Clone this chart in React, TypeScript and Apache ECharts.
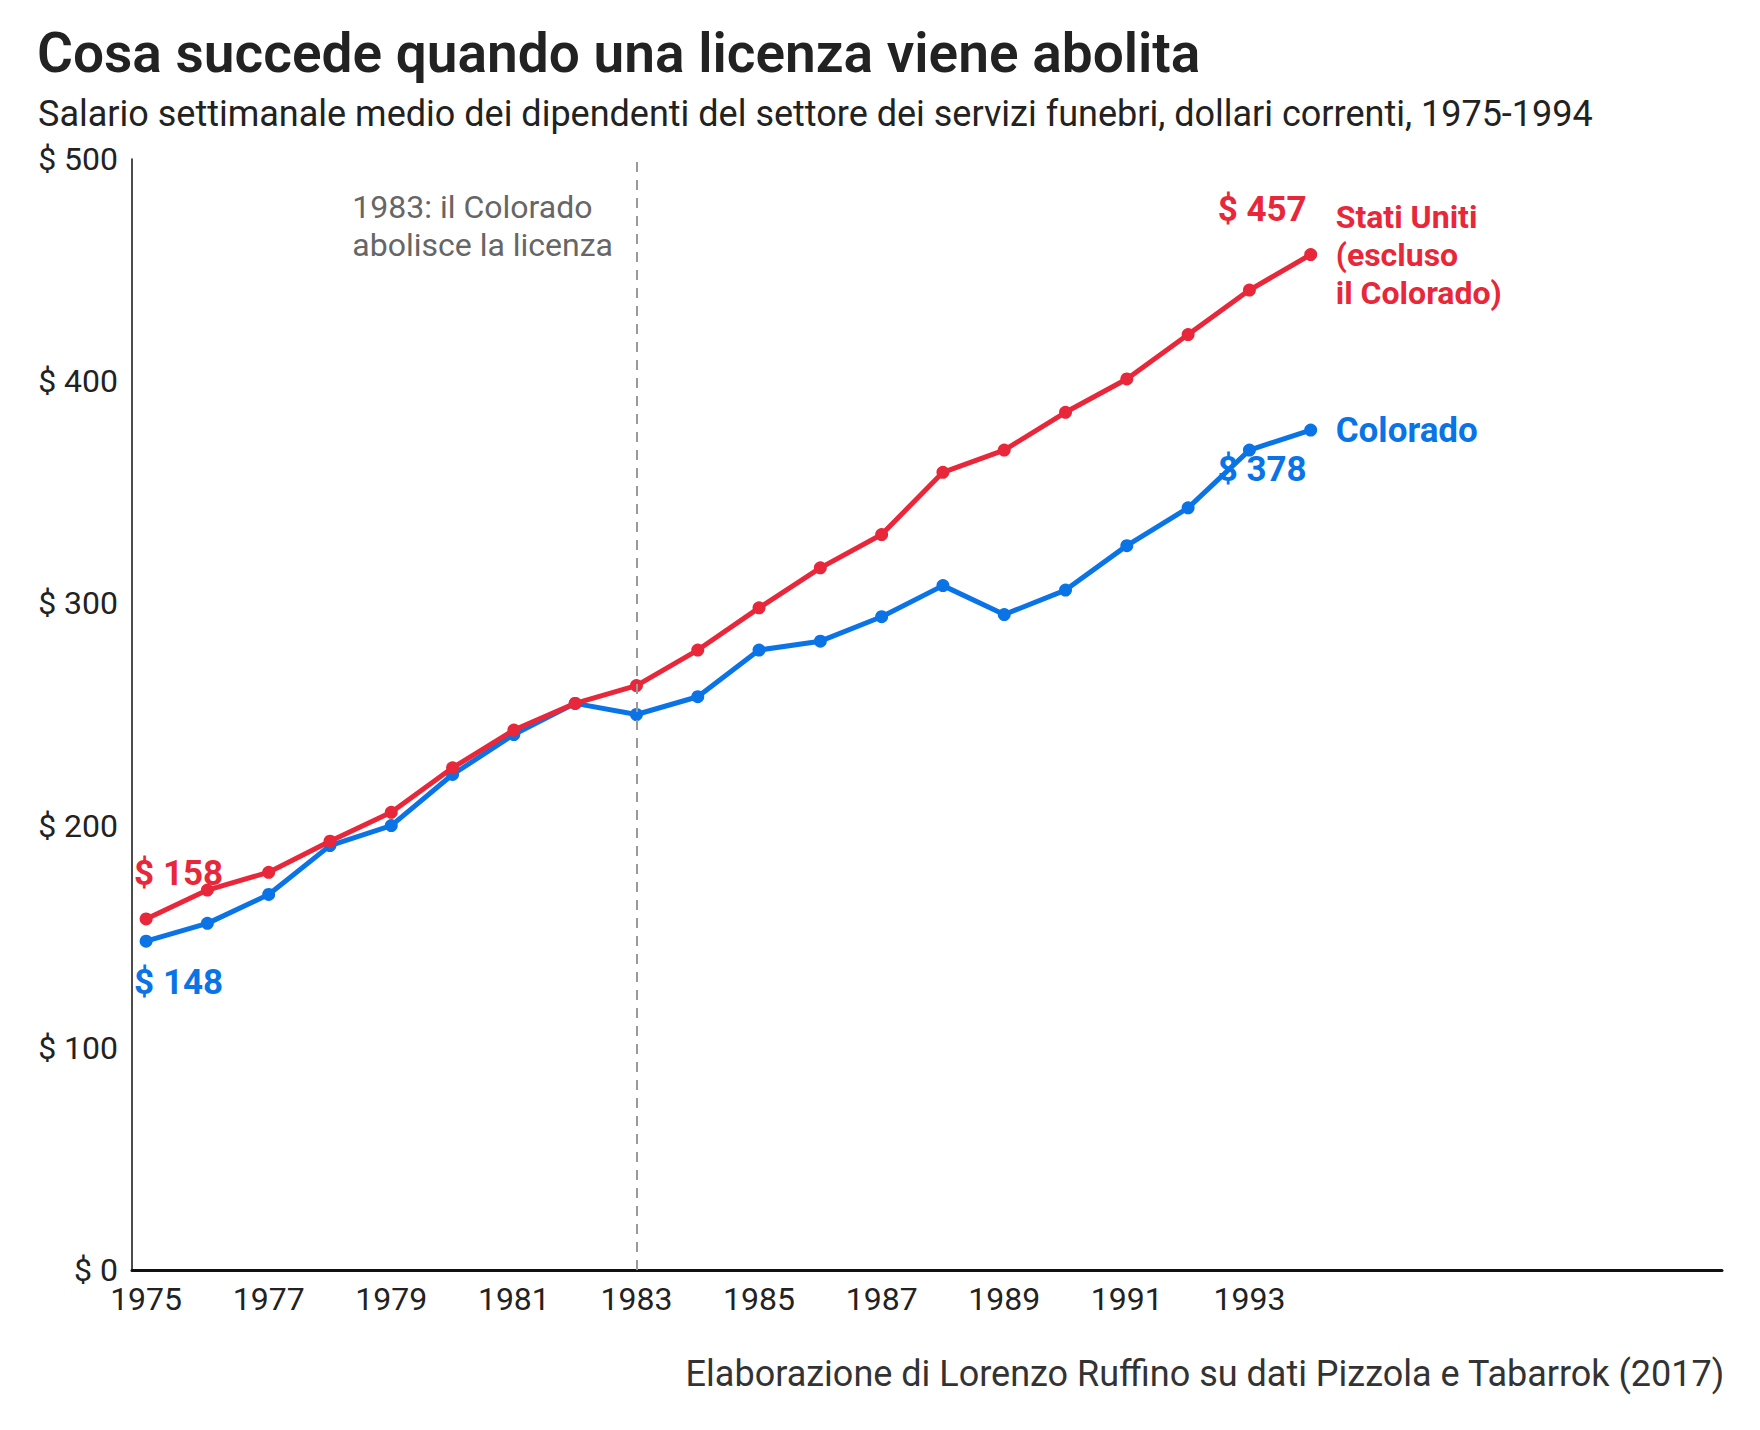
import React, { useEffect, useRef } from "react";
import * as echarts from "echarts";

const years = [1975, 1976, 1977, 1978, 1979, 1980, 1981, 1982, 1983, 1984, 1985, 1986, 1987, 1988, 1989, 1990, 1991, 1992, 1993, 1994];
const usValues = [158, 171, 179, 193, 206, 226, 243, 255, 263, 279, 298, 316, 331, 359, 369, 386, 401, 421, 441, 457];
const coValues = [148, 156, 169, 191, 200, 223, 241, 255, 250, 258, 279, 283, 294, 308, 295, 306, 326, 343, 369, 378];
const xTickLabels = [1975, 1977, 1979, 1981, 1983, 1985, 1987, 1989, 1991, 1993];
const yTicks = [0, 100, 200, 300, 400, 500];
const usName = "Stati Uniti\n(escluso\nil Colorado)";
const coName = "Colorado";
const eventYear = 1983;

const RED = "#E8273A";
const BLUE = "#0A74E6";
const FONT = "Roboto, 'Noto Sans', sans-serif";

export default function App() {
  const ref = useRef<HTMLDivElement>(null);
  useEffect(() => {
    document.body.style.margin = "0";
    if (!ref.current) return;
    const chart = echarts.init(ref.current, null, { renderer: "svg" });
    const last = years.length - 1;
    const mk = (vals: number[], color: string, firstPos: string, lastPos: string, firstOff: number[], lastOff: number[]) =>
      vals.map((v, i) => {
        const item: any = { value: [years[i], v] };
        if (i === 0 || i === last) {
          const pos = i === 0 ? firstPos : lastPos;
          item.label = {
            show: true,
            formatter: "$ " + v,
            position: pos,
            align: i === 0 ? "left" : "right",
            offset: i === 0 ? firstOff : lastOff,
            color,
            fontFamily: FONT,
            fontWeight: "bold",
            fontSize: 35,
          };
        }
        return item;
      });
    chart.setOption({
      animation: false,
      backgroundColor: "#ffffff",
      textStyle: { fontFamily: FONT },
      title: [
        {
          text: "Cosa succede quando una licenza viene abolita",
          left: 32,
          top: 20,
          textStyle: { fontFamily: FONT, fontWeight: 600, fontSize: 55, color: "#222222" },
        },
        {
          text: "Salario settimanale medio dei dipendenti del settore dei servizi funebri, dollari correnti, 1975-1994",
          left: 33,
          top: 91,
          textStyle: { fontFamily: FONT, fontWeight: "normal", fontSize: 36, color: "#222222" },
        },
        {
          text: "Elaborazione di Lorenzo Ruffino su dati Pizzola e Tabarrok (2017)",
          right: 30,
          top: 1351,
          textStyle: { fontFamily: FONT, fontWeight: "normal", fontSize: 36, color: "#333333" },
        },
      ],
      grid: { left: 132, top: 159, right: 38, bottom: 160, containLabel: false, outerBoundsMode: "none" },
      xAxis: {
        type: "value",
        min: 1974.77,
        max: 2000.71,
        axisLine: { show: true, lineStyle: { color: "#111111", width: 3 } },
        axisTick: { show: false },
        splitLine: { show: false },
        axisLabel: {
          customValues: xTickLabels,
          formatter: (v: number) => String(v),
          fontFamily: FONT,
          fontSize: 32,
          color: "#222222",
          margin: 13,
        },
      },
      yAxis: {
        type: "value",
        min: 0,
        max: 500,
        interval: 100,
        axisLine: { show: true, lineStyle: { color: "#111111", width: 1.5 } },
        axisTick: { show: false },
        splitLine: { show: false },
        axisLabel: {
          customValues: yTicks,
          formatter: (v: number) => "$ " + v,
          fontFamily: FONT,
          fontSize: 32,
          color: "#222222",
          margin: 14,
        },
      },
      series: [
        {
          type: "line",
          name: usName,
          data: mk(usValues, RED, "top", "top", [-12, -16], [-4, -16]),
          lineStyle: { color: RED, width: 5 },
          itemStyle: { color: RED },
          symbol: "circle",
          symbolSize: 13,
          z: 3,
          endLabel: {
            show: true,
            formatter: usName,
            color: RED,
            fontFamily: FONT,
            fontWeight: "bold",
            fontSize: 32,
            lineHeight: 38,
            distance: 25,
            align: "left",
          },
          markLine: {
            silent: true,
            symbol: "none",
            label: { show: false },
            lineStyle: { color: "#9a9a9a", type: [10, 8], width: 2 },
            data: [{ xAxis: eventYear }],
          },
        },
        {
          type: "line",
          name: coName,
          data: mk(coValues, BLUE, "bottom", "bottom", [-12, 12], [-4, 10]),
          lineStyle: { color: BLUE, width: 5 },
          itemStyle: { color: BLUE },
          symbol: "circle",
          symbolSize: 13,
          z: 2,
          endLabel: {
            show: true,
            formatter: coName,
            color: BLUE,
            fontFamily: FONT,
            fontWeight: "bold",
            fontSize: 35,
            distance: 25,
            align: "left",
          },
        },
      ],
      graphic: [
        {
          type: "text",
          right: 1760 - 613,
          top: 188,
          style: {
            text: "1983: il Colorado\nabolisce la licenza",
            fill: "#666666",
            font: "32px " + FONT,
            lineHeight: 38,
            align: "right",
          },
        },
      ],
    });
    return () => chart.dispose();
  }, []);
  return <div ref={ref} style={{ width: 1760, height: 1430 }} />;
}
